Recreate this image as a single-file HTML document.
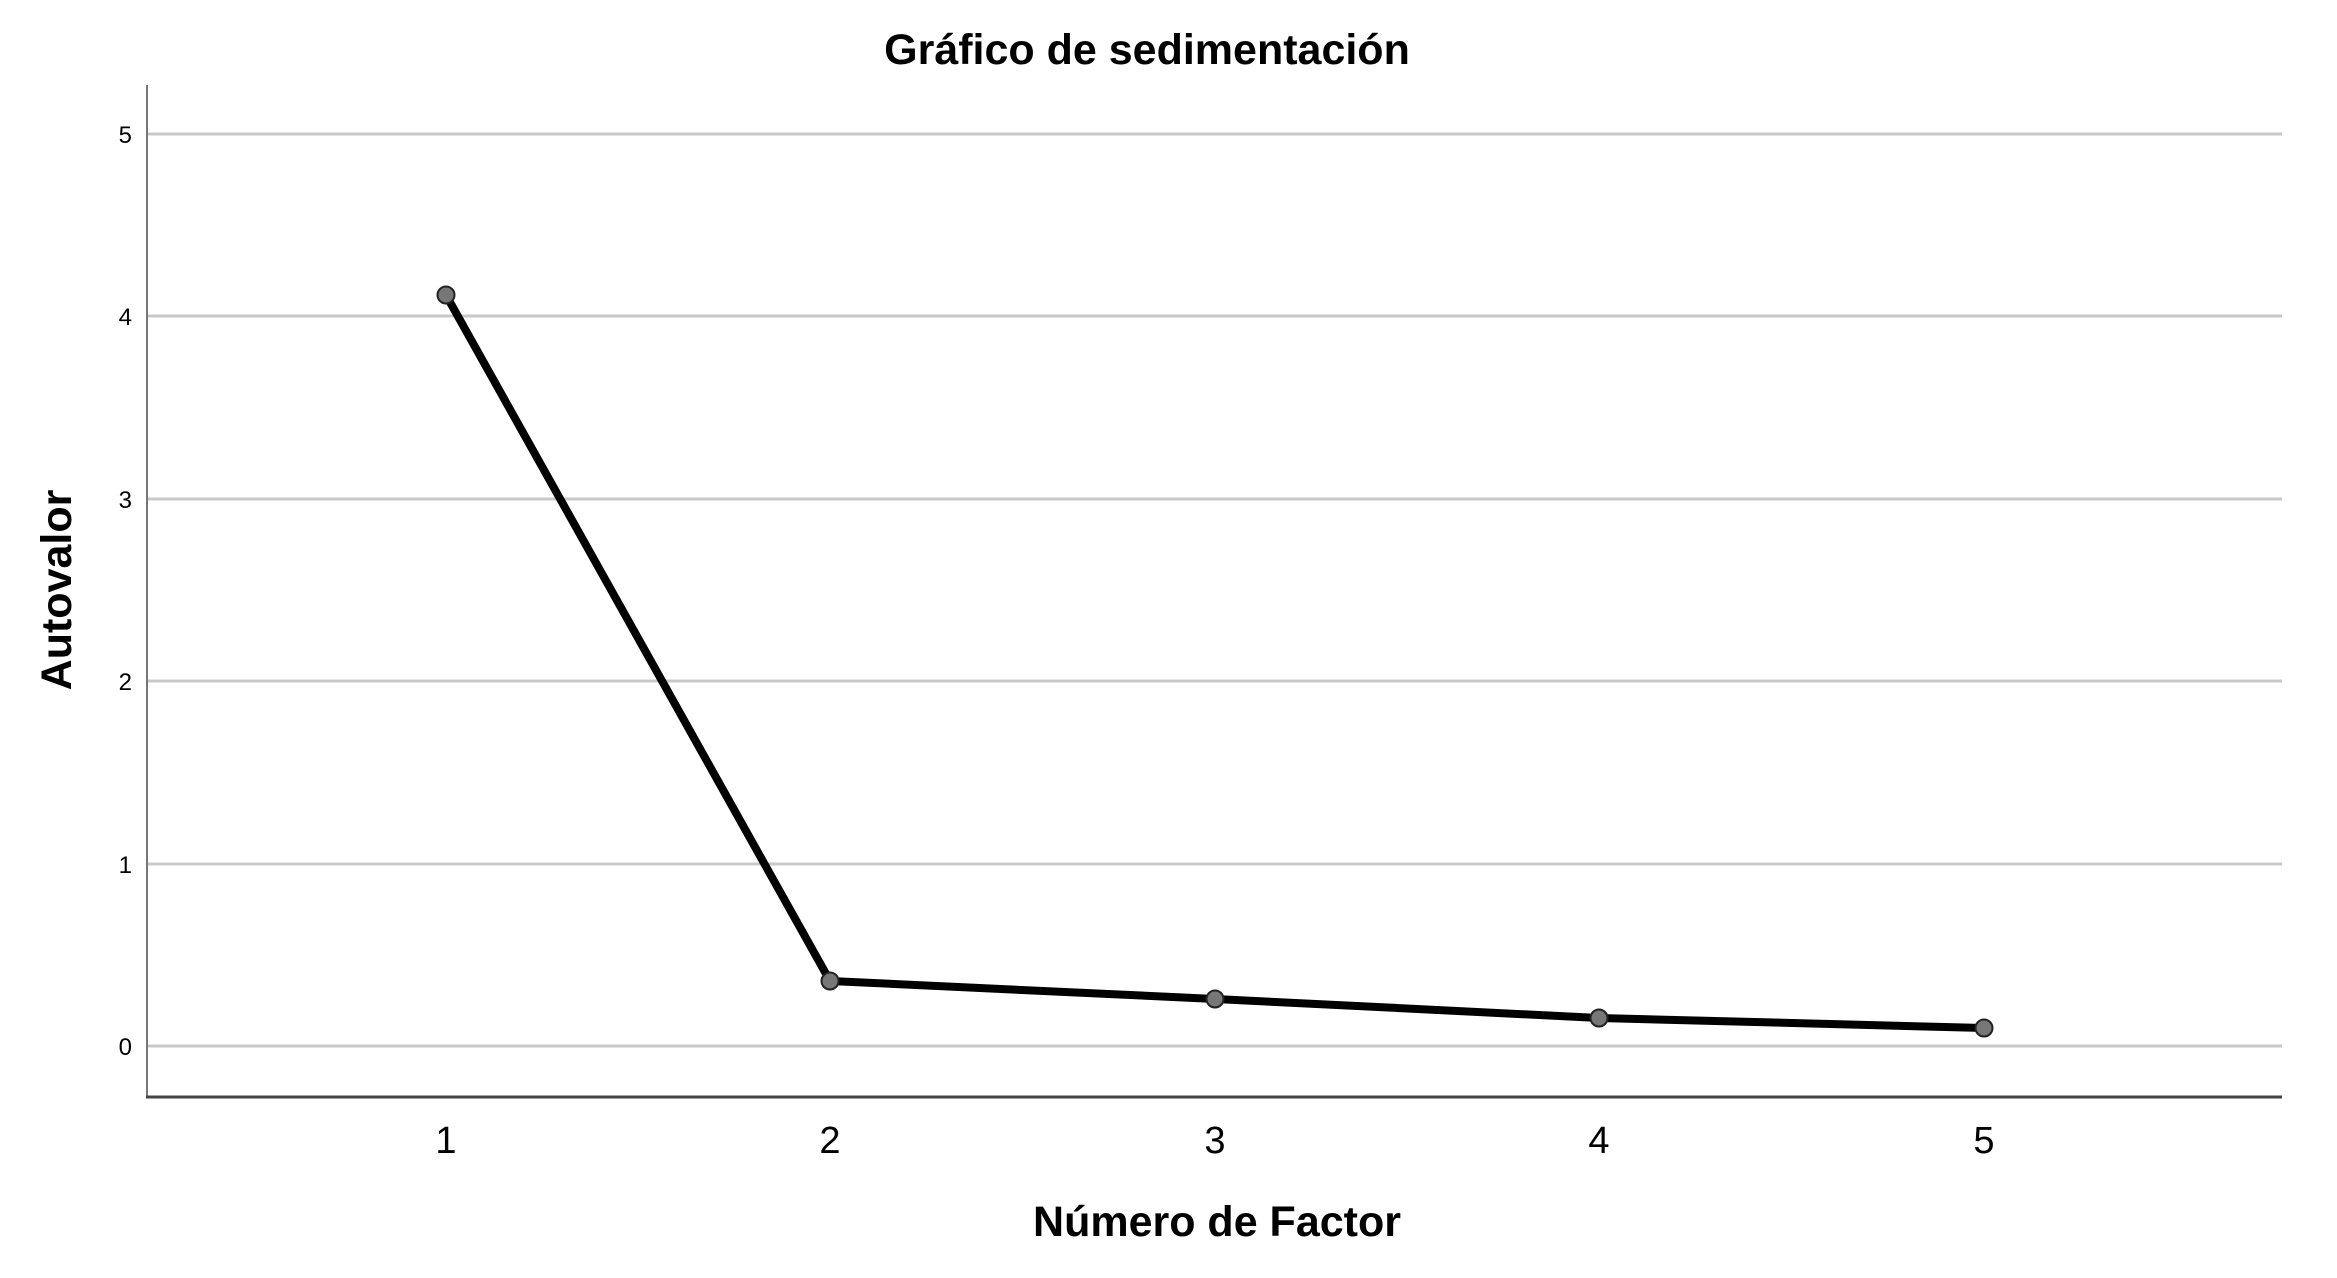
<!DOCTYPE html>
<html><head><meta charset="utf-8"><style>
html,body{margin:0;padding:0;background:#fff;}
svg{display:block;font-family:"Liberation Sans",Arial,sans-serif;}
</style></head><body>
<svg width="2337" height="1278" viewBox="0 0 2337 1278">
<rect width="2337" height="1278" fill="#fff"/>
<g stroke="#c8c8c8" stroke-width="3">
<line x1="146" x2="2282" y1="134" y2="134"/>
<line x1="146" x2="2282" y1="316" y2="316"/>
<line x1="146" x2="2282" y1="499" y2="499"/>
<line x1="146" x2="2282" y1="681" y2="681"/>
<line x1="146" x2="2282" y1="864" y2="864"/>
<line x1="146" x2="2282" y1="1046" y2="1046"/>
</g>
<line x1="147" x2="147" y1="85" y2="1098" stroke="#777" stroke-width="2"/>
<line x1="146" x2="2282" y1="1097" y2="1097" stroke="#444" stroke-width="3"/>
<g font-size="24" text-anchor="end" fill="#000">
<text x="132" y="143">5</text>
<text x="132" y="325">4</text>
<text x="132" y="508">3</text>
<text x="132" y="690">2</text>
<text x="132" y="873">1</text>
<text x="132" y="1055">0</text>
</g>
<g font-size="38" text-anchor="middle" fill="#000">
<text x="446" y="1153">1</text>
<text x="830" y="1153">2</text>
<text x="1215" y="1153">3</text>
<text x="1599" y="1153">4</text>
<text x="1984" y="1153">5</text>
</g>
<text x="1147" y="64" font-size="43" font-weight="bold" text-anchor="middle">Gráfico de sedimentación</text>
<text x="1217" y="1236" font-size="43" font-weight="bold" text-anchor="middle">Número de Factor</text>
<text transform="translate(71,590) rotate(-90)" font-size="43" font-weight="bold" text-anchor="middle">Autovalor</text>
<polyline points="446,295 830,981 1215,999 1599,1018 1984,1028" fill="none" stroke="#000" stroke-width="8" stroke-linejoin="round"/>
<g fill="#777" stroke="#222" stroke-width="2">
<circle cx="446" cy="295" r="8.5"/>
<circle cx="830" cy="981" r="8.5"/>
<circle cx="1215" cy="999" r="8.5"/>
<circle cx="1599" cy="1018" r="8.5"/>
<circle cx="1984" cy="1028" r="8.5"/>
</g>
</svg>
</body></html>
